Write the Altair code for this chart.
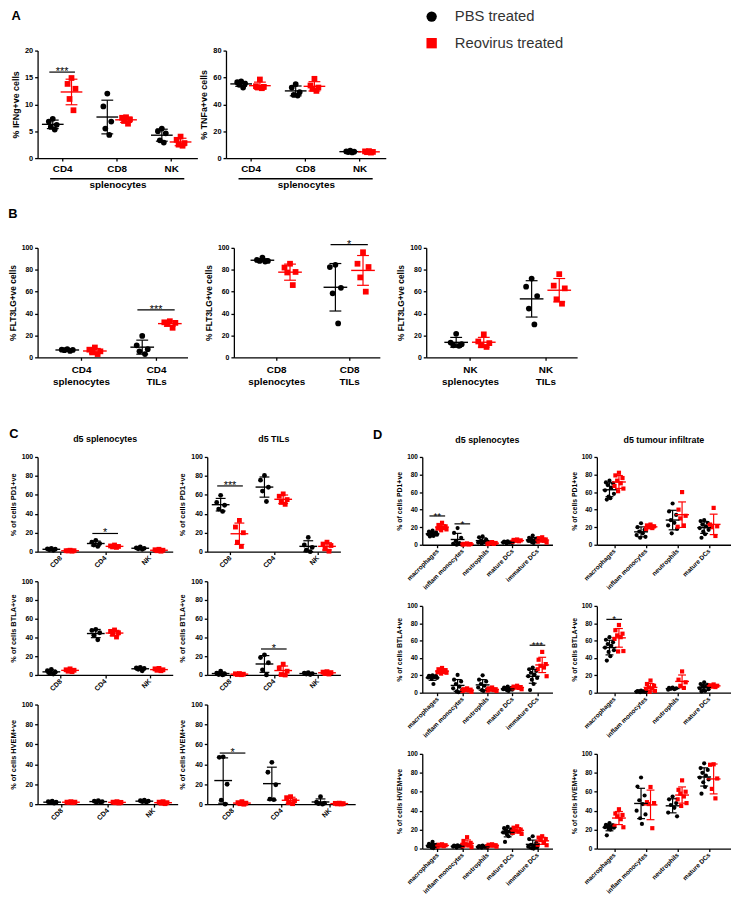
import json
import altair as alt
import pandas as pd

FONT = "Liberation Sans"
PBS = "PBS treated"
REO = "Reovirus treated"
GROUPS = [PBS, REO]
COLORS = ["#000000", "#ff0000"]
SHAPES = ["circle", "square"]
JIT = [0.0, -0.8, 0.8, -0.4, 0.4, -1.0, 1.0, -0.2, 0.2, -0.6]

# ---------------- Panel A ----------------
A_CATS = ["CD4", "CD8", "NK"]
IFNG_PBS = [[7.3, 6.8, 6.2, 5.8, 5.3], [12.0, 9.6, 6.8, 5.5, 4.3], [5.5, 5.0, 4.6, 3.3, 2.9]]
IFNG_REO = [[14.9, 13.8, 12.9, 11.0, 8.9], [7.6, 7.5, 7.2, 6.9, 6.4], [4.0, 3.4, 2.8, 2.5, 2.3]]
IFNG_SIG = [(0, 16.0, "***")]
TNFA_PBS = [[57.0, 56.5, 55.5, 54.5, 52.5], [55.0, 52.5, 49.0, 47.0, 46.5], [5.5, 5.0, 4.8, 4.5, 4.2]]
TNFA_REO = [[58.5, 53.5, 53.0, 52.5, 52.0], [59.0, 54.0, 52.5, 51.5, 50.0], [5.2, 5.0, 4.6, 4.4, 4.1]]

# ---------------- Panel B ----------------
B1_CATS = [["CD4", "splenocytes"], ["CD4", "TILs"]]
B2_CATS = [["CD8", "splenocytes"], ["CD8", "TILs"]]
B3_CATS = [["NK", "splenocytes"], ["NK", "TILs"]]
FLT_CD4_PBS = [[7.5, 7.0, 6.8, 6.5, 5.8], [19.5, 11.0, 7.5, 5.5, 3.0]]
FLT_CD4_REO = [[9.0, 7.0, 5.5, 4.5, 3.0], [33.0, 32.0, 31.5, 30.5, 27.0]]
FLT_CD4_SIG = [(1, 43.3, "***")]
FLT_CD8_PBS = [[91.0, 89.0, 88.0, 88.0, 87.5], [84.5, 82.5, 63.5, 58.5, 31.0]]
FLT_CD8_REO = [[85.5, 82.0, 78.0, 77.5, 66.0], [96.0, 85.5, 82.5, 73.0, 60.0]]
FLT_CD8_SIG = [(1, 103.0, "*")]
FLT_NK_PBS = [[21.5, 13.5, 12.0, 11.0, 10.5], [72.0, 64.5, 56.0, 44.5, 30.0]]
FLT_NK_REO = [[21.0, 14.5, 13.0, 11.0, 9.5], [76.0, 65.5, 63.0, 53.0, 49.0]]

# ---------------- Panel C ----------------
C_CATS = ["CD8", "CD4", "NK"]
PD1_SPL_PBS = [[3.5, 3.0, 2.5, 2.0, 1.5], [12.0, 10.0, 8.5, 7.0, 5.5], [5.0, 4.0, 3.5, 3.0, 2.5]]
PD1_SPL_REO = [[1.5, 1.0, 1.0, 0.8, 0.5], [7.0, 6.0, 5.5, 5.0, 4.5], [2.5, 2.0, 1.5, 1.0, 0.5]]
PD1_SPL_SIG = [(1, 19.2, "*")]
PD1_TIL_PBS = [[59.5, 52.0, 49.0, 45.0, 42.5], [80.5, 75.5, 68.0, 64.0, 53.0], [15.0, 7.0, 4.5, 1.5, 0.0]]
PD1_TIL_REO = [[33.0, 26.0, 20.0, 10.0, 5.5], [61.0, 58.5, 55.0, 52.0, 50.0], [10.0, 8.0, 6.5, 3.0, 0.5]]
PD1_TIL_SIG = [(0, 69.4, "***")]
BTLA_SPL_PBS = [[6.0, 4.5, 3.0, 2.0, 1.0], [48.5, 47.5, 45.0, 42.5, 37.5], [8.0, 7.5, 7.0, 6.0, 4.5]]
BTLA_SPL_REO = [[6.5, 5.5, 5.0, 4.0, 3.5], [48.0, 46.5, 45.0, 43.5, 40.5], [7.0, 6.5, 5.5, 5.0, 4.5]]
BTLA_TIL_PBS = [[4.0, 2.0, 1.0, 0.5, 0.0], [21.5, 18.5, 13.0, 5.5, 0.0], [2.5, 2.0, 1.5, 1.0, 0.5]]
BTLA_TIL_REO = [[1.5, 1.2, 0.8, 0.5, 0.3], [11.5, 7.5, 4.0, 0.5, 0.0], [3.5, 3.0, 2.5, 1.5, 1.0]]
BTLA_TIL_SIG = [(1, 27.7, "*")]
HVEM_SPL_PBS = [[3.0, 2.5, 2.0, 1.5, 1.0], [3.5, 3.0, 2.5, 2.0, 2.0], [4.0, 3.5, 3.0, 2.5, 2.0]]
HVEM_SPL_REO = [[2.5, 2.0, 2.0, 1.8, 1.5], [2.5, 2.0, 1.8, 1.5, 1.2], [2.5, 2.0, 1.5, 1.0, 0.5]]
HVEM_TIL_PBS = [[47.5, 47.0, 20.0, 4.0, 0.0], [42.0, 32.0, 19.5, 5.0, 4.5], [7.5, 2.0, 1.0, 0.5, 0.0]]
HVEM_TIL_REO = [[2.5, 1.5, 1.0, 0.5, 0.0], [7.5, 6.5, 3.5, 1.5, 0.5], [1.0, 0.8, 0.5, 0.3, 0.2]]
HVEM_TIL_SIG = [(0, 51.3, "*")]

# ---------------- Panel D ----------------
D_SPL_CATS = ["macrophages", "inflam monocytes", "neutrophils", "mature DCs", "immature DCs"]
D_TUM_CATS = ["macrophages", "inflam monocytes", "neutrophils", "mature DCs"]
D_PD1_SPL_PBS = [[16.0, 15.0, 14.0, 13.0, 12.5, 12.0, 11.5, 11.0, 10.0, 9.5],
                 [19.0, 13.5, 8.0, 4.0, 2.0, 1.0, 0.5, 0.0],
                 [9.5, 8.5, 6.0, 4.5, 3.5, 2.5, 2.0, 1.0],
                 [4.0, 3.5, 3.0, 3.0, 2.5, 2.5, 2.0, 1.5],
                 [10.5, 8.0, 7.0, 6.0, 5.0, 4.5, 4.0, 3.0, 2.0]]
D_PD1_SPL_REO = [[25.0, 22.5, 21.0, 20.0, 19.5, 18.5, 17.5, 16.5],
                 [1.5, 1.0, 0.8, 0.5, 0.3, 0.2],
                 [3.0, 2.5, 2.0, 1.5, 1.0, 0.8],
                 [6.0, 5.5, 5.0, 4.5, 4.0, 3.5],
                 [8.5, 7.5, 6.0, 5.0, 4.5, 3.5, 2.5]]
D_PD1_SPL_SIG = [(0, 32.8, "**"), (1, 23.8, "*")]
D_PD1_TUM_PBS = [[73.0, 71.0, 70.0, 68.0, 65.0, 62.0, 58.0, 55.0, 53.0, 51.5],
                 [24.5, 20.0, 17.0, 15.0, 13.0, 11.0, 9.0, 8.0],
                 [47.0, 38.0, 34.0, 28.0, 25.0, 22.0, 18.0, 13.0],
                 [28.0, 27.0, 25.0, 23.0, 21.0, 19.0, 17.0, 15.0, 12.0, 8.0]]
D_PD1_TUM_REO = [[82.0, 79.0, 76.0, 73.0, 70.0, 67.0, 64.0, 61.0],
                 [23.0, 22.0, 21.0, 20.0, 19.0, 17.5],
                 [60.0, 40.0, 33.0, 30.0, 22.0, 20.5],
                 [42.0, 23.0, 21.0, 20.0, 10.0]]
D_BTLA_SPL_PBS = [[20.0, 19.5, 19.0, 18.5, 18.0, 17.5, 17.0, 16.0, 10.0],
                  [20.5, 15.0, 13.0, 10.0, 7.0, 5.0, 3.0, 1.5, 0.5],
                  [20.0, 15.0, 13.0, 10.0, 8.0, 6.0, 4.0, 3.0, 2.0],
                  [7.0, 6.0, 5.5, 5.0, 4.5, 4.0, 3.5, 3.0, 2.0],
                  [29.0, 27.0, 25.0, 23.0, 21.0, 19.0, 17.0, 15.0, 10.0, 3.0]]
D_BTLA_SPL_REO = [[28.5, 27.0, 26.0, 25.0, 24.0, 23.5, 23.0, 22.0],
                  [5.0, 4.0, 3.5, 3.0, 2.5, 2.0, 1.0],
                  [6.0, 5.0, 4.0, 3.5, 3.0, 2.5, 2.0],
                  [8.0, 7.0, 6.5, 6.0, 5.5, 5.0, 4.0],
                  [47.0, 38.0, 33.0, 31.0, 29.0, 27.0, 19.0]]
D_BTLA_SPL_SIG = [(4, 54.7, "***")]
D_BTLA_TUM_PBS = [[64.0, 61.0, 58.0, 56.0, 54.0, 52.0, 49.0, 47.0, 42.0, 37.0],
                  [2.5, 2.0, 1.8, 1.5, 1.2, 1.0, 0.8, 0.5],
                  [6.0, 5.5, 5.0, 4.5, 4.0, 3.5],
                  [12.0, 10.0, 9.0, 8.0, 7.0, 5.0, 4.0, 3.0, 2.0, 1.5]]
D_BTLA_TUM_REO = [[78.0, 72.0, 68.0, 66.0, 64.0, 62.0, 48.0, 47.5],
                  [14.0, 10.0, 8.0, 6.0, 5.0, 3.0, 2.0, 1.0],
                  [24.5, 15.0, 12.0, 8.0, 5.5],
                  [9.5, 8.5, 8.0, 7.0, 6.5]]
D_BTLA_TUM_SIG = [(0, 84.5, "*")]
D_HVEM_SPL_PBS = [[7.0, 5.0, 4.0, 3.5, 3.0, 2.5, 2.0, 1.0, 0.5],
                  [3.5, 3.0, 2.8, 2.5, 2.2, 2.0, 1.5, 1.0],
                  [3.0, 2.5, 2.2, 2.0, 1.8, 1.5, 1.2, 1.0],
                  [23.0, 21.5, 20.0, 19.0, 18.0, 17.0, 16.0, 15.0, 13.0, 7.0],
                  [13.0, 10.0, 6.0, 4.0, 3.0, 2.0, 1.5, 0.5, 0.0]]
D_HVEM_SPL_REO = [[4.5, 4.0, 3.5, 3.0, 2.5, 2.0],
                  [12.0, 8.0, 6.0, 4.5, 3.5, 2.5, 1.5],
                  [4.5, 4.0, 3.5, 3.0, 3.0, 2.5, 2.0],
                  [23.5, 22.0, 20.0, 19.0, 18.0, 16.5, 15.5],
                  [13.0, 11.5, 10.0, 9.0, 6.0, 4.0, 3.5]]
D_HVEM_TUM_PBS = [[27.0, 25.0, 24.5, 24.0, 23.0, 22.5, 22.0, 21.0, 20.0, 14.0],
                  [75.0, 65.5, 56.0, 51.0, 47.0, 40.0, 36.0, 32.0, 26.0],
                  [55.0, 52.0, 48.0, 46.0, 43.0, 38.0, 34.0],
                  [90.0, 85.0, 83.0, 80.0, 77.0, 75.0, 73.0, 70.0, 65.0, 58.0]]
D_HVEM_TUM_REO = [[41.5, 37.0, 35.5, 34.0, 31.0, 24.0, 22.5],
                  [65.0, 49.0, 48.0, 47.0, 21.5],
                  [72.0, 62.0, 60.0, 58.0, 55.0, 52.0, 48.0, 45.0],
                  [89.0, 88.5, 74.0, 63.0, 53.0]]

Y100 = [0, 20, 40, 60, 80, 100]

LEGEND = alt.Legend(orient="none", legendX=392, legendY=-42, title=None, labelFontSize=15,
                    labelFont=FONT, labelColor="#333333", symbolSize=110, symbolStrokeWidth=0,
                    symbolOpacity=1, rowPadding=11, labelOffset=16, direction="vertical",
                    padding=0, titlePadding=0)

SA = dict(xls=10, xlp=3, yls=7.5, yts=9, ytp=4, star=11)
SB = dict(xls=10, xlp=4, yls=7, yts=8.5, ytp=4, star=11)
SC = dict(rot=True, xls=7, xlp=2, yls=7, yts=7.5, ytp=4, star=11)
SD = dict(rot=True, xls=6.5, xlp=2, yls=6.5, yts=7, ytp=4, star=10)

GA = (9.5, 5, 11, 6, 34)
GB = (14, 7, 12, 6, 34)
GC = (9.5, 5, 9, 5, 24)
GD = (4.8, 4.5, 7, 4, 18)


def panel(cats, pbs, reo, sig, ytitle, yticks, width, height, dom, geo, style,
          title=None, group_label=None):
    gd_px, jw_px, mw_px, cw_px, psize = geo
    ppu = width / (dom[1] - dom[0])
    gd, jw, mw, cw = gd_px / ppu, jw_px / ppu, mw_px / ppu, cw_px / ppu
    rows = []
    for ci in range(len(cats)):
        for gi, vals in enumerate((pbs[ci], reo[ci])):
            xc = ci + (gd if gi else -gd)
            for k, v in enumerate(vals):
                rows.append({"ci": ci, "grp": GROUPS[gi], "col": COLORS[gi], "v": v, "xc": xc,
                             "x": xc + JIT[k % len(JIT)] * jw, "mw": mw, "cw": cw})
    df = pd.DataFrame(rows)
    xs = alt.Scale(domain=list(dom), nice=False, zero=False)
    ys = alt.Scale(domain=[yticks[0], yticks[-1]], nice=False, zero=False)

    xkw = dict(values=list(range(len(cats))), labelExpr=json.dumps(cats) + "[round(datum.value)]",
               grid=False, tickSize=3, labelFlush=False, labelOverlap=False, labelBound=False,
               labelFontSize=style["xls"], labelFontWeight="bold", labelColor="black",
               labelPadding=style["xlp"], labelFont=FONT)
    if style.get("rot"):
        xkw.update(labelAngle=-45, labelAlign="right", labelBaseline="middle")
    else:
        xkw.update(labelAngle=0, labelLineHeight=13)
    if group_label:
        xkw.update(title=group_label, titleFontSize=10, titleFontWeight="bold", titlePadding=6,
                   titleFont=FONT)
    else:
        xkw.update(title=None)
    xaxis = alt.Axis(**xkw)
    yaxis = alt.Axis(values=yticks, title=ytitle, grid=False, tickSize=3,
                     labelFontSize=style["yls"], labelFontWeight="bold", labelPadding=2,
                     titleFontSize=style["yts"], titleFontWeight="bold",
                     titlePadding=style["ytp"], labelFlush=False, labelOverlap=False,
                     labelFont=FONT, titleFont=FONT)

    def X(f):
        return alt.X(f, scale=xs, axis=xaxis)

    def Y(f):
        return alt.Y(f, scale=ys, axis=yaxis)

    base = alt.Chart(df)
    pts = base.mark_point(filled=True, size=psize, opacity=1, strokeWidth=0).encode(
        x=X("x:Q"),
        y=Y("v:Q"),
        color=alt.Color("grp:N", scale=alt.Scale(domain=GROUPS, range=COLORS), legend=LEGEND),
        shape=alt.Shape("grp:N", scale=alt.Scale(domain=GROUPS, range=SHAPES), legend=LEGEND),
    )

    colr = alt.Color("col:N", scale=None)
    stats = base.transform_aggregate(
        m="mean(v)", s="stdev(v)", groupby=["ci", "grp", "col", "xc", "mw", "cw"]
    ).transform_calculate(
        xa="datum.xc - datum.mw", xb="datum.xc + datum.mw",
        ca="datum.xc - datum.cw", cb="datum.xc + datum.cw",
        lo="max(0, datum.m - datum.s)", hi="datum.m + datum.s",
    )
    bar = stats.mark_rule(strokeWidth=1.2).encode(x=X("xc:Q"), y=Y("lo:Q"), y2="hi:Q", color=colr)
    capu = stats.mark_rule(strokeWidth=1.2).encode(x=X("ca:Q"), x2="cb:Q", y=Y("hi:Q"), color=colr)
    capl = stats.mark_rule(strokeWidth=1.2).encode(x=X("ca:Q"), x2="cb:Q", y=Y("lo:Q"), color=colr)
    mean = stats.mark_rule(strokeWidth=1.4).encode(x=X("xa:Q"), x2="xb:Q", y=Y("m:Q"), color=colr)
    layers = [pts, bar, capu, capl, mean]

    if sig:
        sdf = pd.DataFrame([{"x1": c - gd - jw * 0.7, "x2": c + gd + jw * 0.7, "xm": c, "y": y, "s": s}
                            for c, y, s in sig])
        sb = alt.Chart(sdf)
        layers.append(sb.mark_rule(color="black", strokeWidth=1.2).encode(
            x=X("x1:Q"), x2="x2:Q", y=Y("y:Q")))
        layers.append(sb.mark_text(fontSize=style["star"], font=FONT, baseline="alphabetic", dy=3,
                                   color="black").encode(x=X("xm:Q"), y=Y("y:Q"), text="s:N"))
    if group_label:
        span = yticks[-1] - yticks[0]
        uy = yticks[0] - 21.0 * span / height
        udf = pd.DataFrame([{"ux": -0.22, "uy": uy}, {"ux": len(cats) - 1 + 0.24, "uy": uy}])
        layers.append(alt.Chart(udf).mark_line(color="black", strokeWidth=1.6, clip=False).encode(
            x=X("ux:Q"), y=Y("uy:Q")))

    ch = alt.layer(*layers).properties(width=width, height=height)
    if title:
        ch = ch.properties(title=alt.TitleParams(title, fontSize=9, fontWeight="bold", anchor="middle",
                                                 frame="group", offset=9, font=FONT, color="black"))
    return ch


def letter(t, offset, dx=0):
    return alt.TitleParams(t, anchor="start", frame="bounds", fontSize=13, fontWeight="bold",
                           offset=offset, dx=dx, font=FONT, color="black")


A_DOM = (-0.45, 2.48)
a1 = panel(A_CATS, IFNG_PBS, IFNG_REO, IFNG_SIG, "% IFNg+ve cells", [0, 5, 10, 15, 20],
           162, 109, A_DOM, GA, SA, group_label="splenocytes")
a2 = panel(A_CATS, TNFA_PBS, TNFA_REO, None, "% TNFa+ve cells", [0, 20, 40, 60, 80],
           162, 109, A_DOM, GA, SA, group_label="splenocytes")
rowA = alt.concat(a1, a2, spacing=29, bounds="flush", title=letter("A", 24))

B_DOM = (-0.58, 1.42)
b1 = panel(B1_CATS, FLT_CD4_PBS, FLT_CD4_REO, FLT_CD4_SIG, "% FLT3LG+ve cells", Y100, 152, 111, B_DOM, GB, SB)
b2 = panel(B2_CATS, FLT_CD8_PBS, FLT_CD8_REO, FLT_CD8_SIG, "% FLT3LG+ve cells", Y100, 148, 111, B_DOM, GB, SB)
b3 = panel(B3_CATS, FLT_NK_PBS, FLT_NK_REO, None, "% FLT3LG+ve cells", Y100, 153, 111, B_DOM, GB, SB)
rowB = alt.concat(b1, b2, b3, spacing=47, bounds="flush", title=letter("B", 18))

C_DOM = (-0.52, 2.52)
c1 = panel(C_CATS, PD1_SPL_PBS, PD1_SPL_REO, PD1_SPL_SIG, "% of cells PD1+ve", Y100, 137, 96, C_DOM, GC, SC,
           title="d5 splenocytes")
c2 = panel(C_CATS, PD1_TIL_PBS, PD1_TIL_REO, PD1_TIL_SIG, "% of cells PD1+ve", Y100, 135, 96, C_DOM, GC, SC,
           title="d5 TILs")
c3 = panel(C_CATS, BTLA_SPL_PBS, BTLA_SPL_REO, None, "% of cells BTLA+ve", Y100, 137, 95, C_DOM, GC, SC)
c4 = panel(C_CATS, BTLA_TIL_PBS, BTLA_TIL_REO, BTLA_TIL_SIG, "% of cells BTLA+ve", Y100, 135, 95, C_DOM, GC, SC)
c5 = panel(C_CATS, HVEM_SPL_PBS, HVEM_SPL_REO, None, "% of cells HVEM+ve", Y100, 142, 101, C_DOM, GC, SC)
c6 = panel(C_CATS, HVEM_TIL_PBS, HVEM_TIL_REO, HVEM_TIL_SIG, "% of cells HVEM+ve", Y100, 150, 101, C_DOM, GC, SC)
gridC = alt.concat(c1, c2, c3, c4, c5, c6, columns=2, spacing={"row": 30, "column": 30},
                   bounds="flush", title=letter("C", -6))

D5_DOM = (-0.6, 4.6)
D4_DOM = (-0.55, 3.7)
d1 = panel(D_SPL_CATS, D_PD1_SPL_PBS, D_PD1_SPL_REO, D_PD1_SPL_SIG, "% of cells PD1+ve", Y100, 132, 89,
           D5_DOM, GD, SD, title="d5 splenocytes")
d2 = panel(D_TUM_CATS, D_PD1_TUM_PBS, D_PD1_TUM_REO, None, "% of cells PD1+ve", Y100, 136, 89,
           D4_DOM, GD, SD, title="d5 tumour infiltrate")
d3 = panel(D_SPL_CATS, D_BTLA_SPL_PBS, D_BTLA_SPL_REO, D_BTLA_SPL_SIG, "% of cells BTLA+ve", Y100, 132, 88,
           D5_DOM, GD, SD)
d4 = panel(D_TUM_CATS, D_BTLA_TUM_PBS, D_BTLA_TUM_REO, D_BTLA_TUM_SIG, "% of cells BTLA+ve", Y100, 136, 88,
           D4_DOM, GD, SD)
d5 = panel(D_SPL_CATS, D_HVEM_SPL_PBS, D_HVEM_SPL_REO, None, "% of cells HVEM+ve", Y100, 132, 96,
           D5_DOM, GD, SD)
d6 = panel(D_TUM_CATS, D_HVEM_TUM_PBS, D_HVEM_TUM_REO, None, "% of cells HVEM+ve", Y100, 136, 96,
           D4_DOM, GD, SD)
gridD = alt.concat(d1, d2, d3, d4, d5, d6, columns=2, spacing={"row": 62, "column": 45},
                   bounds="flush", title=letter("D", -6, dx=-23))

rowCD = alt.concat(gridC, gridD, spacing=18)

top = alt.concat(rowA, rowB, columns=1, spacing=18)
chart = alt.concat(top, rowCD, columns=1, spacing=42).properties(
    padding={"left": 0, "top": -5, "right": 0, "bottom": 0}
).configure(font=FONT).configure_view(stroke=None).configure_axis(
    domainColor="black", tickColor="black", domainWidth=1.3, tickWidth=1.3,
    labelColor="black", titleColor="black", grid=False
)

chart.save("out.html", embed_options={"renderer": "svg", "actions": False})
